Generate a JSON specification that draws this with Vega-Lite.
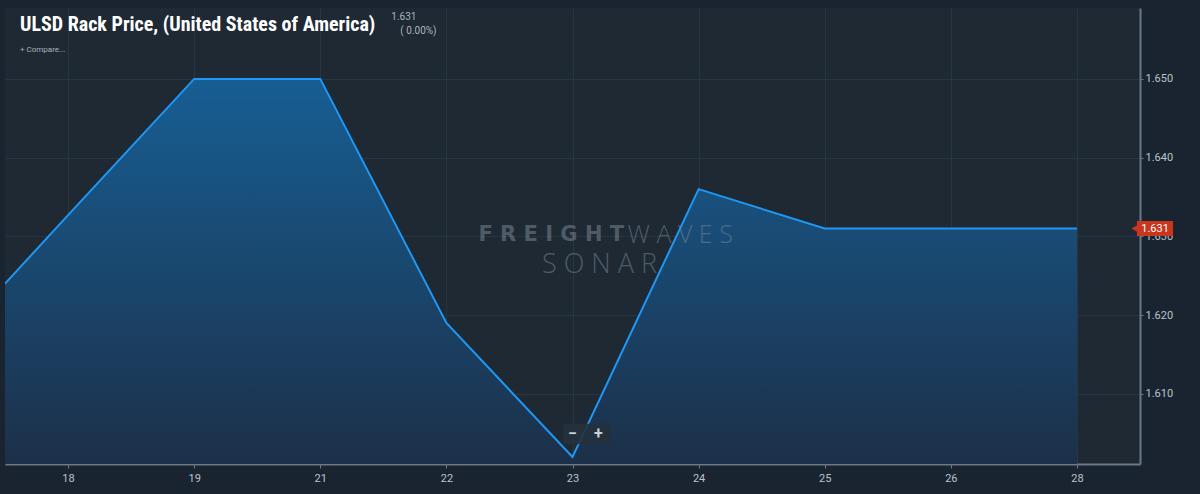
{
  "$schema": "https://vega.github.io/schema/vega-lite/v6.json",
  "width": 1135,
  "height": 456,
  "autosize": {"type": "none"},
  "padding": {"left": 5, "top": 8, "right": 60, "bottom": 30},
  "background": "#1a2430",
  "config": {"view": {"fill": "#1e2934", "stroke": null}, "font": "Roboto"},
  "title": {
    "text": "ULSD Rack Price, (United States of America)",
    "subtitle": "+ Compare...",
    "anchor": "start",
    "frame": "group",
    "orient": "top",
    "offset": -46,
    "dx": 15,
    "font": "'Roboto Condensed', 'Arial Narrow', Roboto",
    "fontSize": 20,
    "fontWeight": "bold",
    "color": "#ffffff",
    "subtitleFont": "Roboto",
    "subtitleFontSize": 8,
    "subtitleColor": "#aab4bf",
    "subtitlePadding": 11
  },
  "layer": [
    {
      "data": {"values": [
        {"idx": -0.5, "day": "", "price": 1.624},
        {"idx": 0, "day": "18", "price": 1.6327},
        {"idx": 1, "day": "19", "price": 1.650},
        {"idx": 2, "day": "21", "price": 1.650},
        {"idx": 3, "day": "22", "price": 1.619},
        {"idx": 4, "day": "23", "price": 1.602},
        {"idx": 5, "day": "24", "price": 1.636},
        {"idx": 6, "day": "25", "price": 1.631},
        {"idx": 7, "day": "26", "price": 1.631},
        {"idx": 8, "day": "28", "price": 1.631}
      ]},
      "layer": [
        {
          "mark": {
            "type": "area",
            "clip": true,
            "color": {
              "gradient": "linear", "x1": 0, "y1": 0, "x2": 0, "y2": 1,
              "stops": [
                {"offset": 0, "color": "#175e93"},
                {"offset": 1, "color": "#1c3049"}
              ]
            }
          },
          "encoding": {
            "x": {
              "field": "idx", "type": "quantitative",
              "scale": {"domain": [-0.5, 8.5], "nice": false, "zero": false},
              "axis": {
                "title": null,
                "values": [0, 1, 2, 3, 4, 5, 6, 7, 8],
                "labelExpr": "['18','19','21','22','23','24','25','26','28'][datum.value]",
                "grid": true, "gridColor": "#2b3846", "gridOpacity": 0.8,
                "domainColor": "#6a7885", "domainWidth": 2,
                "tickColor": "#6a7885", "tickSize": 4,
                "labelColor": "#b9c2cb", "labelFontSize": 11, "labelPadding": 4
              }
            },
            "y": {
              "field": "price", "type": "quantitative",
              "scale": {"domain": [1.6011, 1.659], "nice": false, "zero": false},
              "axis": {
                "title": null, "orient": "right",
                "values": [1.61, 1.62, 1.63, 1.64, 1.65],
                "format": ".3f",
                "grid": true, "gridColor": "#2b3846", "gridOpacity": 0.8,
                "domainColor": "#6a7885", "domainWidth": 2,
                "tickColor": "#6a7885", "tickSize": 3,
                "labelColor": "#b9c2cb", "labelFontSize": 11, "labelPadding": 2
              }
            },
            "y2": {"datum": 1.6011}
          }
        },
        {
          "mark": {"type": "line", "clip": true, "color": "#1f97f5", "strokeWidth": 2},
          "encoding": {
            "x": {"field": "idx", "type": "quantitative"},
            "y": {"field": "price", "type": "quantitative"}
          }
        }
      ]
    },
    {
      "mark": {"type": "rule", "color": "#b5402f", "strokeDash": [4, 3], "strokeWidth": 1, "opacity": 0.8},
      "encoding": {"y": {"datum": 1.631}}
    },
    {
      "data": {"values": [
        {"t": "F R E I G H T", "idx": 3.254, "price": 1.6302, "w": "bold"},
        {"t": "W A V E S", "idx": 4.437, "price": 1.6302, "w": "light"}
      ]},
      "layer": [
        {
          "transform": [{"filter": "datum.w == 'bold'"}],
          "mark": {"type": "text", "align": "left", "baseline": "middle", "font": "DejaVu Sans", "fontSize": 21, "fontWeight": "bold", "color": "#808b96", "opacity": 0.5},
          "encoding": {
            "x": {"field": "idx", "type": "quantitative"},
            "y": {"field": "price", "type": "quantitative"},
            "text": {"field": "t"}
          }
        },
        {
          "transform": [{"filter": "datum.w == 'light'"}],
          "mark": {"type": "text", "align": "left", "baseline": "middle", "font": "Open Sans", "fontSize": 25, "fontWeight": 300, "color": "#808b96", "opacity": 0.5},
          "encoding": {
            "x": {"field": "idx", "type": "quantitative"},
            "y": {"field": "price", "type": "quantitative"},
            "text": {"field": "t"}
          }
        }
      ]
    },
    {
      "data": {"values": [{"t": "S O N A R", "idx": 4.214, "price": 1.6264}]},
      "mark": {"type": "text", "align": "center", "baseline": "middle", "font": "Open Sans", "fontSize": 27, "fontWeight": 300, "color": "#808b96", "opacity": 0.5},
      "encoding": {
        "x": {"field": "idx", "type": "quantitative"},
        "y": {"field": "price", "type": "quantitative"},
        "text": {"field": "t"}
      }
    },
    {
      "data": {"values": [{"x1": 3.929, "x2": 4.302, "y1": 1.6062, "y2": 1.6036}]},
      "mark": {"type": "rect", "color": "#25313c", "opacity": 0.9},
      "encoding": {
        "x": {"field": "x1", "type": "quantitative"},
        "x2": {"field": "x2"},
        "y": {"field": "y1", "type": "quantitative"},
        "y2": {"field": "y2"}
      }
    },
    {
      "data": {"values": [
        {"t": "−", "idx": 4.0, "price": 1.6049},
        {"t": "+", "idx": 4.206, "price": 1.6049}
      ]},
      "mark": {"type": "text", "align": "center", "baseline": "middle", "fontSize": 16, "fontWeight": "bold", "color": "#c9d0d6"},
      "encoding": {
        "x": {"field": "idx", "type": "quantitative"},
        "y": {"field": "price", "type": "quantitative"},
        "text": {"field": "t"}
      }
    },
    {
      "data": {"values": [
        {"t": "1.631", "idx": 2.563, "price": 1.6579},
        {"t": "( 0.00%)", "idx": 2.635, "price": 1.6561}
      ]},
      "mark": {"type": "text", "align": "left", "baseline": "middle", "fontSize": 10, "color": "#aab3bc"},
      "encoding": {
        "x": {"field": "idx", "type": "quantitative"},
        "y": {"field": "price", "type": "quantitative"},
        "text": {"field": "t"}
      }
    },
    {
      "data": {"values": [{"x1": 8.476, "x2": 8.762, "y1": 1.63195, "y2": 1.63005, "tip": 8.465, "cx": 8.619, "v": 1.631, "t": "1.631"}]},
      "layer": [
        {
          "mark": {"type": "rect", "color": "#c8361d"},
          "encoding": {
            "x": {"field": "x1", "type": "quantitative"},
            "x2": {"field": "x2"},
            "y": {"field": "y1", "type": "quantitative"},
            "y2": {"field": "y2"}
          }
        },
        {
          "mark": {"type": "point", "shape": "triangle-left", "filled": true, "size": 90, "color": "#c8361d", "opacity": 1},
          "encoding": {
            "x": {"field": "tip", "type": "quantitative"},
            "y": {"field": "v", "type": "quantitative"}
          }
        },
        {
          "mark": {"type": "text", "align": "center", "baseline": "middle", "fontSize": 11, "color": "#ffffff"},
          "encoding": {
            "x": {"field": "cx", "type": "quantitative"},
            "y": {"field": "v", "type": "quantitative"},
            "text": {"field": "t"}
          }
        }
      ]
    }
  ]
}
